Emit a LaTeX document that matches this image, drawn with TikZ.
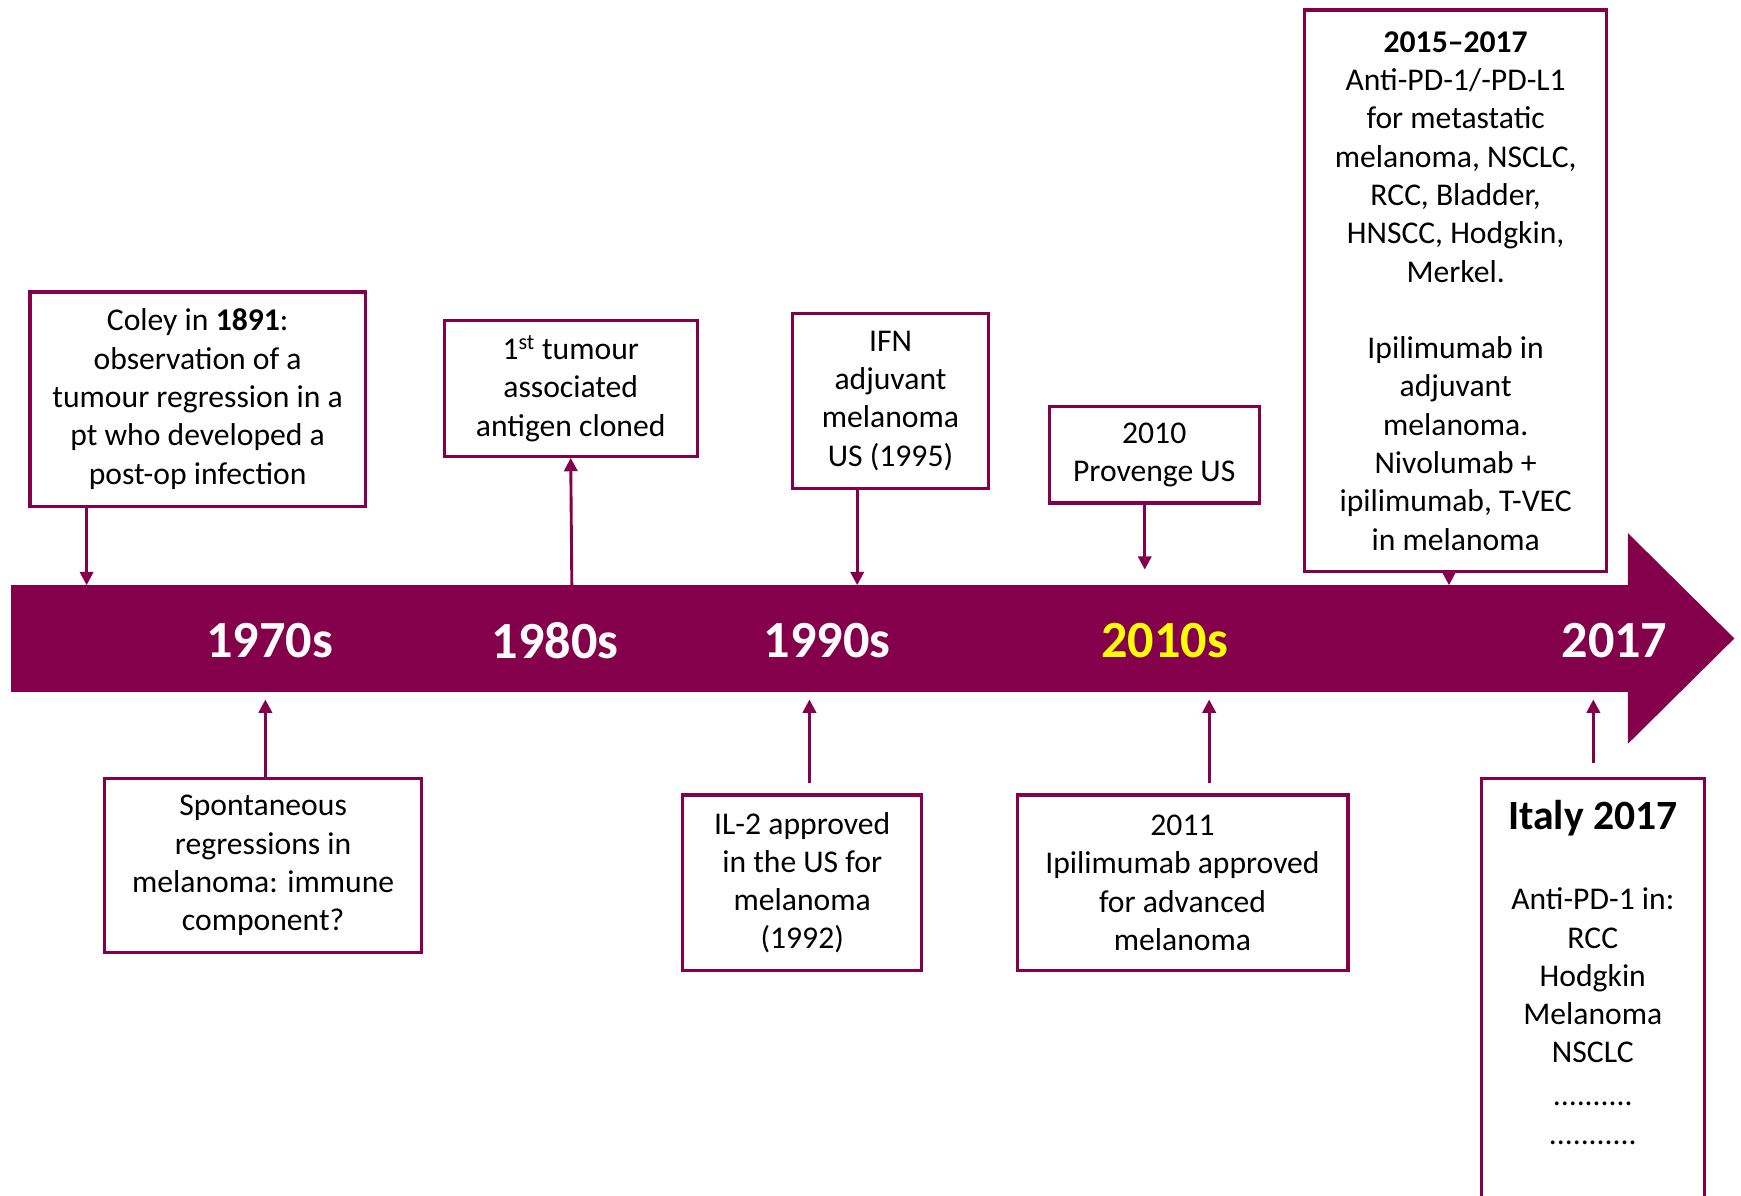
\documentclass[tikz,border=0pt]{standalone}
\usepackage{fontspec}
\setmainfont{Carlito}
\usetikzlibrary{arrows.meta}

\definecolor{tlmaroon}{RGB}{133,0,75}
\definecolor{tlyellow}{RGB}{255,255,0}

\tikzset{
    evbox/.style={draw=tlmaroon, line width=2.8pt, fill=white, align=center,
        inner sep=0pt, font=\fontsize{28.5}{34.5}\selectfont},
    evarrow/.style={draw=tlmaroon, line width=2.6pt,
        -{Triangle[length=12pt,width=12pt]}},
    decade/.style={text=white, font=\fontsize{47}{50}\selectfont\bfseries},
}

\begin{document}
\begin{tikzpicture}[x=1pt,y=-1pt]

    \useasboundingbox (0,0) rectangle (1568,1077);
    \clip (0,0) rectangle (1568,1077);

    % Timeline band with arrow head
    \fill[tlmaroon] (10,527) -- (1466,527) -- (1466,480) -- (1562,575)
        -- (1466,670) -- (1466,623) -- (10,623) -- cycle;

    % Decades
    \node[decade] (d70) at (243,577) {1970s};
    \node[decade] (d80) at (500,577) {1980s};
    \node[decade] (d90) at (745,577) {1990s};
    \node[decade, text=tlyellow] (d10) at (1049,577) {2010s};
    \node[decade] (d17) at (1454,577) {2017};

    % Events above the band
    \node[evbox, minimum width=302, minimum height=193] (coley) at (178,359.5)
        {Coley in \textbf{1891}:\\observation of a\\tumour regression in a\\pt who developed a\\post-op infection};
    \node[evbox, minimum width=228, minimum height=122] (antigen) at (514,350)
        {1\textsuperscript{st} tumour\\associated\\antigen cloned};
    \node[evbox, minimum width=176, minimum height=158] (ifn) at (802,361)
        {IFN\\adjuvant\\melanoma\\US (1995)};
    \node[evbox, minimum width=189, minimum height=87] (provenge) at (1039.5,409.5)
        {2010\\Provenge US};
    \node[evbox, minimum width=272, minimum height=506] (pdone) at (1311,262)
        {\textbf{2015--2017}\\Anti-PD-1/-PD-L1\\for metastatic\\melanoma, NSCLC,\\RCC, Bladder,\\HNSCC, Hodgkin,\\Merkel.\\[34.5pt]Ipilimumab in\\adjuvant\\melanoma.\\Nivolumab +\\ipilimumab, T-VEC\\in melanoma};

    % Events below the band
    \node[evbox, minimum width=286, minimum height=157] (spont) at (237,779.5)
        {Spontaneous\\regressions in\\melanoma: immune\\component?};
    \node[evbox, minimum width=215, minimum height=158] (iltwo) at (722.5,795)
        {IL-2 approved\\in the US for\\melanoma\\(1992)};
    \node[evbox, minimum width=298, minimum height=158] (ipi) at (1065,795)
        {2011\\Ipilimumab approved\\for advanced\\melanoma};
    \node[evbox, minimum width=201, minimum height=420, anchor=north] (italy) at (1434.5,700) {};
    \node[align=center, font=\fontsize{28.5}{34.5}\selectfont, anchor=north] (italytext) at (1434.5,717)
        {{\fontsize{37.5}{40}\selectfont\bfseries Italy 2017}\\[38pt]Anti-PD-1 in:\\RCC\\Hodgkin\\Melanoma\\NSCLC\\[4pt]..........\\...........};

    % Arrow ends on the band
    \coordinate (tcoley) at (78,527);
    \coordinate (tantigen) at (515,527);
    \coordinate (tifn) at (772,527);
    \coordinate (tprovenge) at (1031,513);
    \coordinate (tpdone) at (1305,527);
    \coordinate (tspont) at (239,630);
    \coordinate (tiltwo) at (729,630);
    \coordinate (tipi) at (1089,630);
    \coordinate (titaly) at (1435,630);
    \coordinate (siltwo) at (729,705);
    \coordinate (sipi) at (1089,705);
    \coordinate (sitaly) at (1435,687);

    % Connectors
    \draw[evarrow] (coley.south -| tcoley) -- (tcoley);
    \draw[evarrow] (tantigen) -- (antigen.south);
    \draw[evarrow] (ifn.south -| tifn) -- (tifn);
    \draw[evarrow] (provenge.south -| tprovenge) -- (tprovenge);
    \draw[evarrow] (pdone.south -| tpdone) -- (tpdone);
    \draw[evarrow] (spont.north -| tspont) -- (tspont);
    \draw[evarrow] (siltwo) -- (tiltwo);
    \draw[evarrow] (sipi) -- (tipi);
    \draw[evarrow] (sitaly) -- (titaly);

\end{tikzpicture}
\end{document}
